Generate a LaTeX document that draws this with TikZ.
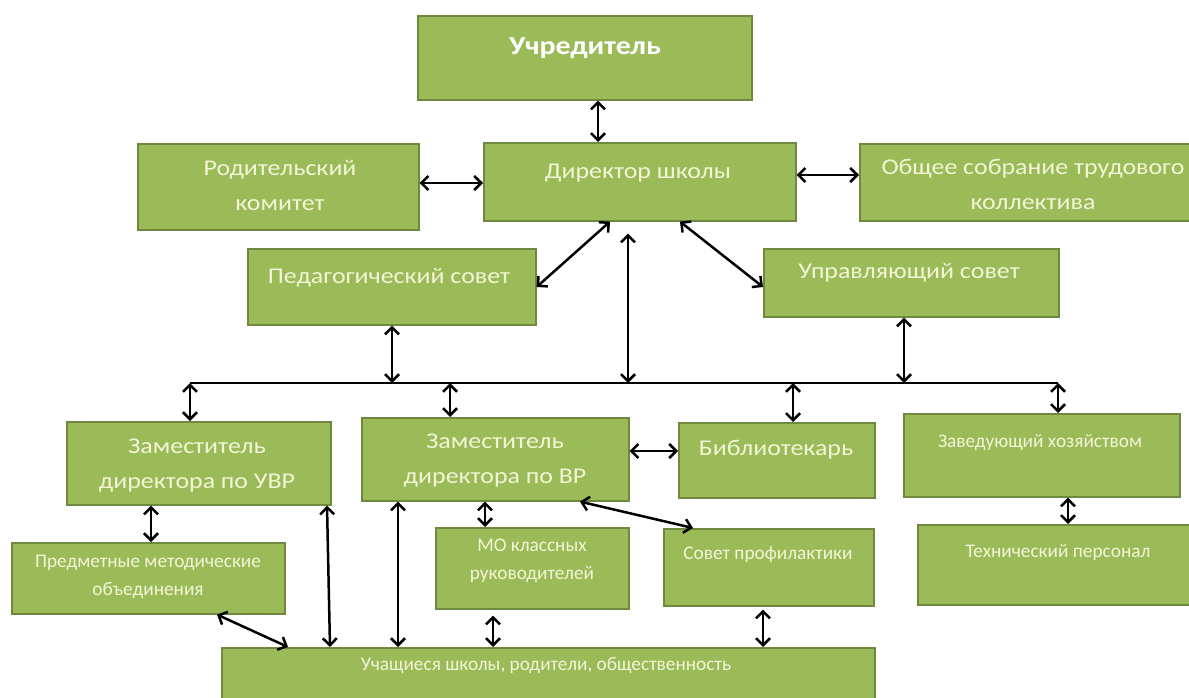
\documentclass[tikz,border=0pt]{standalone}
\usepackage{fontspec}
\setmainfont{Carlito}
\newfontfamily\bigf{Carlito}[FakeStretch=1.15]
\newfontfamily\smallf{Carlito}
\usetikzlibrary{arrows.meta,backgrounds}
\definecolor{boxfill}{HTML}{9BBB59}
\definecolor{boxline}{HTML}{71893F}
\definecolor{txtc}{HTML}{F2F5D6}
\tikzset{
  gbox/.style={draw=boxline, fill=boxfill, line width=1.6pt, inner sep=0pt, anchor=north west},
  bigtxt/.style={text=txtc, font=\bigf\fontsize{22.5}{35}\selectfont, align=center, inner sep=0pt},
  smtxt/.style={text=txtc, font=\smallf\fontsize{19.3}{27.5}\selectfont, align=center, inner sep=0pt},
  toptxt/.style={text=white, font=\bigf\bfseries\fontsize{26}{30}\selectfont, inner sep=0pt},
  arr/.style={line width=2.5pt, {Straight Barb[length=7pt,width=14pt]}-{Straight Barb[length=7pt,width=14pt]}},
  busline/.style={line width=2.5pt},
  sovframe/.style={draw=black!15, fill=white, line width=0.8pt},
}
\begin{document}
\begin{tikzpicture}[x=1pt,y=-1pt]
\useasboundingbox (0,0) rectangle (1189,698);
\fill[white] (0,0) rectangle (1189,698);
\clip (0,0) rectangle (1189,698);

% boxes
\node[gbox, minimum width=334pt, minimum height=84pt] (ucr) at (417,15) {};
\node[gbox, minimum width=312pt, minimum height=78pt] (dir) at (483,142) {};
\node[gbox, minimum width=281pt, minimum height=86pt] (rod) at (137,143) {};
\node[gbox, minimum width=403pt, minimum height=77pt] (obs) at (859,143) {};
\node[gbox, minimum width=288pt, minimum height=76pt] (ped) at (247,248) {};
\node[gbox, minimum width=295pt, minimum height=68pt] (upr) at (763,248) {};
\node[gbox, minimum width=264pt, minimum height=83pt] (uvr) at (66,421) {};
\node[gbox, minimum width=267pt, minimum height=83pt] (vr) at (361,417) {};
\node[gbox, minimum width=196pt, minimum height=75pt] (bib) at (678,422) {};
\node[gbox, minimum width=276pt, minimum height=83pt] (zav) at (903,413) {};
\node[gbox, minimum width=273pt, minimum height=71pt] (pmo) at (11,542) {};
\node[gbox, minimum width=193pt, minimum height=81pt] (mo) at (435,527) {};
\node[gbox, minimum width=210pt, minimum height=77pt] (sov) at (663,528) {};
\node[gbox, minimum width=282pt, minimum height=80pt] (teh) at (917,524) {};
\node[gbox, minimum width=653pt, minimum height=80pt] (uch) at (221,647) {};
\begin{scope}[on background layer]
  \draw[sovframe] ([xshift=-6pt,yshift=5pt]sov.north west) rectangle ([xshift=6pt,yshift=-6pt]sov.south east);
\end{scope}

% texts
\node[toptxt] (tucr) at (585,48) {Учредитель};
\node[bigtxt] (tdir) at (638,173) {Директор школы};
\node[bigtxt] (trod) at (280,185) {Родительский\\комитет};
\node[bigtxt] (tobs) at (1033,184) {Общее собрание трудового\\коллектива};
\node[bigtxt] (tped) at (389,278) {Педагогический совет};
\node[bigtxt] (tupr) at (909,273) {Управляющий совет};
\node[bigtxt] (tuvr) at (197,466) {Заместитель\\директора по УВР};
\node[bigtxt] (tvr) at (495,461) {Заместитель\\директора по ВР};
\node[bigtxt] (tbib) at (776,450) {Библиотекарь};
\node[smtxt] (tzav) at (1040,443) {Заведующий хозяйством};
\node[smtxt] (tpmo) at (148,577) {Предметные методические\\объединения};
\node[smtxt] (tmo) at (532,561) {МО классных\\руководителей};
\node[smtxt] (tsov) at (768,555) {Совет профилактики};
\node[smtxt] (tteh) at (1058,553) {Технический персонал};
\node[smtxt] (tuch) at (546,666) {Учащиеся школы, родители, общественность};

% bus
\coordinate (busL) at (190,383);
\coordinate (busR) at (1058,383);
\draw[busline] (busL) -- (busR);

% upper connectors
\draw[arr] (ucr.south -| 598,0) -- (dir.north -| 598,0);
\draw[arr] (rod.east |- 0,183) -- (dir.west |- 0,183);
\draw[arr] (dir.east |- 0,175) -- (obs.west |- 0,175);
\draw[arr] (dir.south -| 610,0) -- (ped.east |- 0,287);
\draw[arr] (dir.south -| 680,0) -- (upr.west |- 0,287);
\draw[arr] ([yshift=-12pt]dir.south -| 628,0) -- (busL -| 628,0);
\draw[arr] (ped.south -| 392,0) -- (busL -| 392,0);
\draw[arr] (upr.south -| 904,0) -- (busL -| 904,0);

% bus to lower boxes
\draw[arr] (busL) -- (uvr.north -| busL);
\draw[arr] (busL -| 450,0) -- (vr.north -| 450,0);
\draw[arr] (busL -| 793,0) -- (bib.north -| 793,0);
\draw[arr] (busR) -- (zav.north -| busR);

% lower connectors
\draw[arr] (vr.east |- 0,451) -- (bib.west |- 0,451);
\draw[arr] (uvr.south -| 151,0) -- (pmo.north -| 151,0);
\draw[arr] (uvr.south -| 327,0) -- (uch.north -| 330,0);
\draw[arr] (pmo.south -| 217,0) -- (uch.north -| 288,0);
\draw[arr] (vr.south -| 398,0) -- (uch.north -| 398,0);
\draw[arr] (vr.south -| 485,0) -- (mo.north -| 485,0);
\draw[arr] ([yshift=-6pt]mo.south -| 493,0) -- (uch.north -| 493,0);
\draw[arr] (vr.south -| 580,0) -- (sov.north -| 693,0);
\draw[arr] ([yshift=-3pt]sov.south -| 763,0) -- (uch.north -| 763,0);
\draw[arr] (zav.south -| 1068,0) -- (teh.north -| 1068,0);
\end{tikzpicture}
\end{document}
